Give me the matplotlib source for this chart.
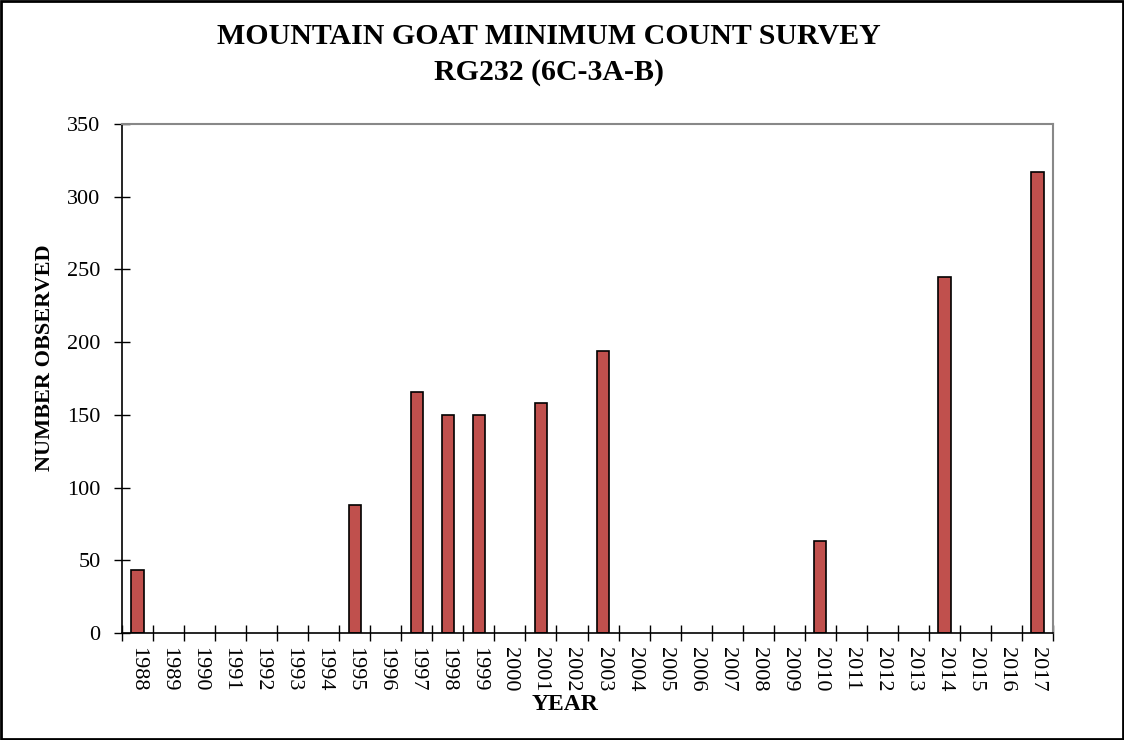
import matplotlib.pyplot as plt
from matplotlib.patches import Rectangle

plt.rcParams['font.family'] = ['Liberation Serif', 'DejaVu Serif']

YEARS = [str(y) for y in range(1988, 2018)]
COUNTS = {
    '1988': 43, '1995': 88, '1997': 166, '1998': 150, '1999': 150,
    '2001': 158, '2003': 194, '2010': 63, '2014': 245, '2017': 317,
}


def make_figure():
    fig = plt.figure(figsize=(11.24, 7.4), dpi=100)
    ax = fig.add_axes([122 / 1124, 1 - 633 / 740, 931 / 1124, 509 / 740])

    xs = list(range(len(YEARS)))
    vals = [COUNTS.get(y, 0) for y in YEARS]
    heights = [v if v else float('nan') for v in vals]
    ax.bar(xs, heights, width=0.4, color='#C0504D', edgecolor='black',
           linewidth=1.2)

    ax.set_xlim(-0.5, len(YEARS) - 0.5)
    ax.set_ylim(0, 350)
    ax.set_yticks(range(0, 351, 50))
    ax.tick_params(axis='y', direction='inout', length=11, width=1,
                   labelsize=16, pad=10)

    # ticks sit between the categories, labels at the centres
    ax.set_xticks([x + 0.5 for x in xs[:-1]] + [-0.5, len(YEARS) - 0.5])
    ax.set_xticklabels([''] * (len(YEARS) + 1))
    ax.set_xticks(xs, minor=True)
    ax.set_xticklabels(YEARS, minor=True, rotation=-90, fontsize=16)
    ax.tick_params(axis='x', which='major', direction='inout', length=11,
                   width=1)
    ax.tick_params(axis='x', which='minor', length=0, pad=10)

    for side in ('top', 'right'):
        ax.spines[side].set_color('#888888')
        ax.spines[side].set_linewidth(1.5)
    for side in ('left', 'bottom'):
        ax.spines[side].set_linewidth(1.2)

    fig.text(45 / 1124, 1 - 358 / 740, 'NUMBER OBSERVED', rotation=90,
             ha='center', va='center', fontsize=16, fontweight='bold')
    fig.text(565 / 1124, 1 - 705 / 740, 'YEAR',
             ha='center', va='center', fontsize=17, fontweight='bold')
    fig.text(0.488, 1 - 37 / 740, 'MOUNTAIN GOAT MINIMUM COUNT SURVEY',
             ha='center', va='center', fontsize=21.5, fontweight='bold')
    fig.text(0.488, 1 - 72 / 740, 'RG232 (6C-3A-B)',
             ha='center', va='center', fontsize=21.5, fontweight='bold')

    fig.patches.append(Rectangle((0.001, 0.002), 0.998, 0.996,
                                 transform=fig.transFigure, fill=False,
                                 edgecolor='black', linewidth=2))
    fig.savefig('out.png', dpi=100)


def main():
    make_figure()


if __name__ == "__main__":
    main()
